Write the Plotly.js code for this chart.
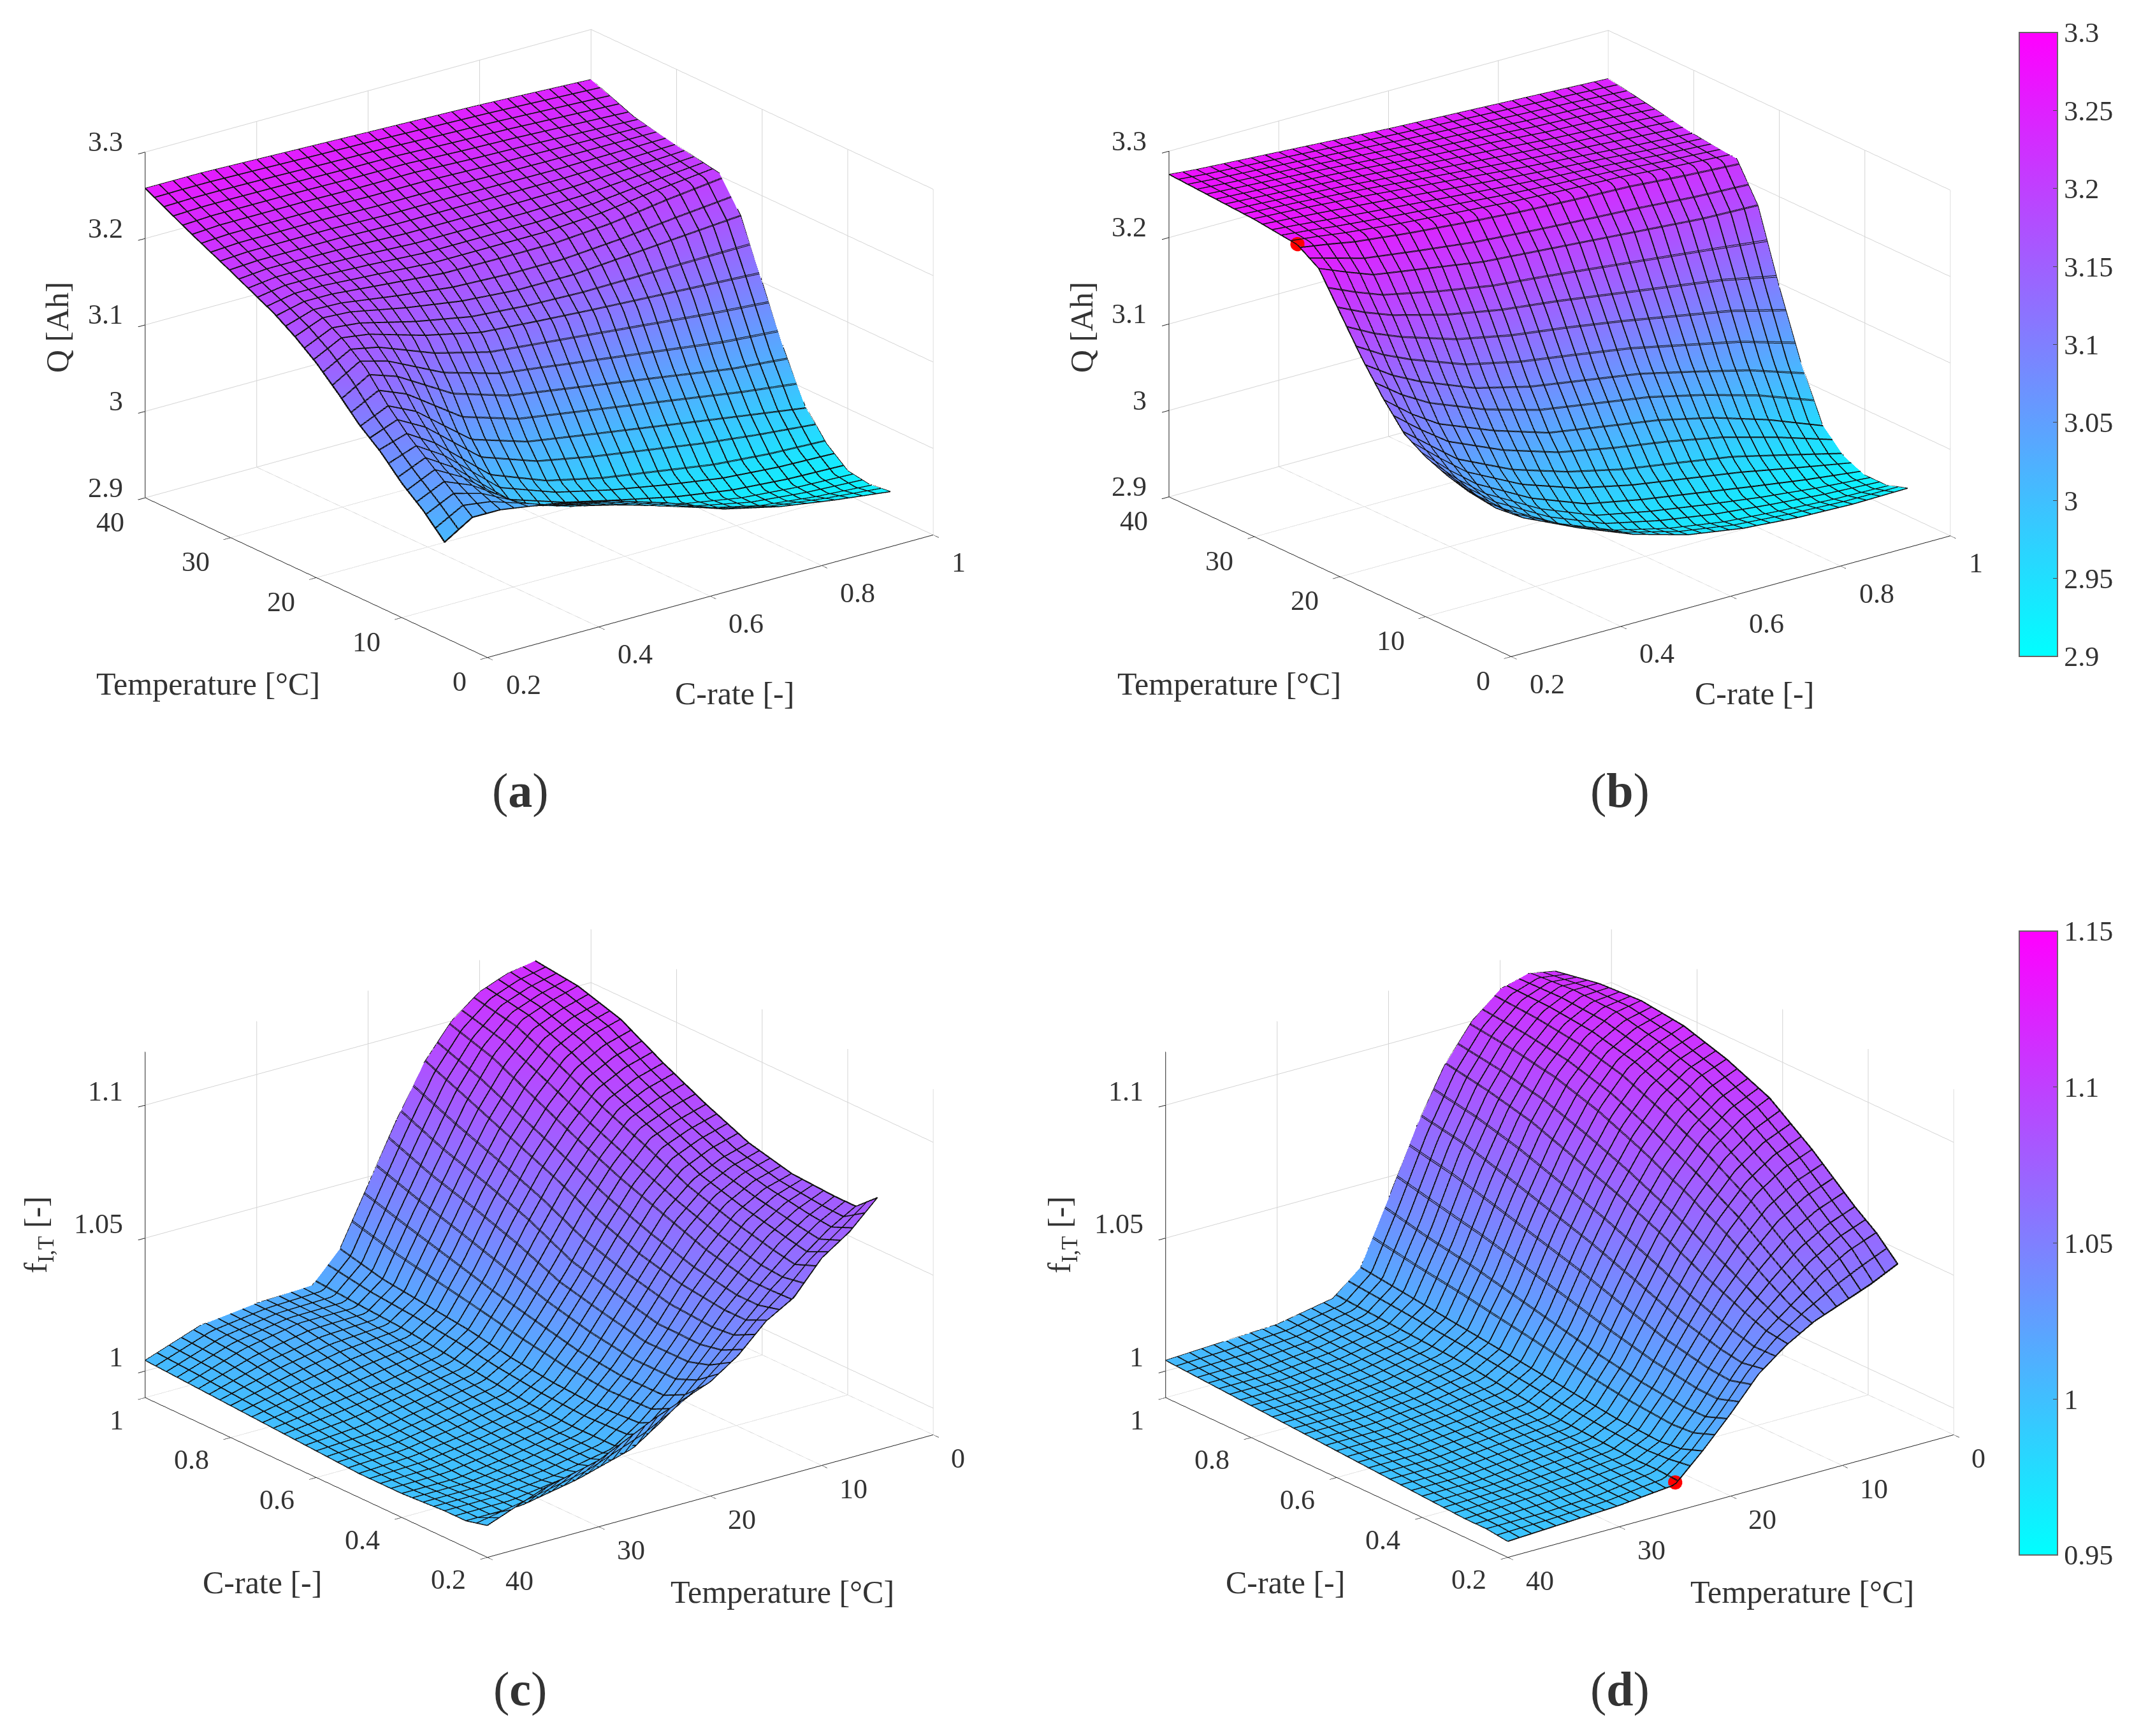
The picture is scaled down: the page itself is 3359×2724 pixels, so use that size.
<!DOCTYPE html>
<html><head><meta charset="utf-8">
<script src="https://cdn.plot.ly/plotly-3.0.1.min.js"></script>
<style>html,body{margin:0;padding:0;background:#fff}#g{width:3359px;height:2724px}</style>
</head><body><div id="g"></div>
<script>
const cRate=[0.2,0.25,0.3,0.4,0.5,0.6,0.7,0.8,0.9,1];
const temp=[5,7.5,10,12.5,15,17.5,20,22.5,25,30,35,40];
const qA=[
[3.01,3.035,3.055,3.08,3.10,3.125,3.148,3.167,3.183,3.208,3.232,3.258],
[3.03,3.05,3.07,3.09,3.115,3.145,3.165,3.18,3.19,3.21,3.234,3.258],
[3.03,3.04,3.05,3.07,3.10,3.135,3.16,3.178,3.19,3.21,3.234,3.258],
[3.02,3.005,2.995,3.015,3.05,3.10,3.14,3.165,3.185,3.21,3.234,3.256],
[3.005,2.99,2.975,2.99,3.03,3.08,3.125,3.155,3.18,3.208,3.233,3.254],
[2.985,2.97,2.96,2.975,3.02,3.07,3.12,3.15,3.18,3.208,3.233,3.252],
[2.96,2.95,2.945,2.965,3.01,3.06,3.115,3.15,3.18,3.208,3.23,3.25],
[2.945,2.935,2.935,2.955,3.0,3.05,3.11,3.155,3.185,3.208,3.228,3.248],
[2.935,2.928,2.93,2.95,2.99,3.04,3.105,3.16,3.195,3.21,3.225,3.245],
[2.927,2.924,2.928,2.948,2.98,3.035,3.10,3.165,3.203,3.212,3.222,3.242]];
const qB=[
[3.068,3.075,3.085,3.10,3.13,3.165,3.205,3.245,3.261,3.267,3.27,3.273],
[3.04,3.045,3.055,3.075,3.105,3.145,3.19,3.232,3.257,3.265,3.268,3.27],
[3.02,3.02,3.03,3.05,3.085,3.13,3.178,3.22,3.252,3.263,3.266,3.268],
[2.991,2.985,2.995,3.02,3.06,3.105,3.16,3.21,3.245,3.258,3.262,3.264],
[2.966,2.96,2.97,3.0,3.04,3.09,3.148,3.2,3.24,3.252,3.257,3.26],
[2.948,2.945,2.958,2.985,3.03,3.08,3.14,3.195,3.235,3.246,3.252,3.256],
[2.938,2.935,2.948,2.975,3.02,3.07,3.13,3.19,3.232,3.24,3.248,3.253],
[2.933,2.93,2.938,2.965,3.005,3.055,3.12,3.185,3.23,3.235,3.243,3.25],
[2.931,2.926,2.93,2.95,2.985,3.04,3.11,3.18,3.225,3.23,3.24,3.247],
[2.932,2.924,2.924,2.935,2.96,3.02,3.095,3.178,3.221,3.226,3.235,3.244]];
const fC=[
[1.085,1.075,1.068,1.056,1.05,1.04,1.033,1.029,1.025,1.015,1.01,1.002],
[1.078,1.072,1.064,1.056,1.046,1.036,1.026,1.017,1.01,1.004,1.0,1.0],
[1.078,1.073,1.066,1.056,1.046,1.034,1.022,1.013,1.006,1.002,1.0,1.0],
[1.079,1.076,1.07,1.06,1.048,1.034,1.022,1.012,1.006,1.002,0.999,0.999],
[1.083,1.08,1.075,1.066,1.052,1.038,1.024,1.013,1.007,1.003,1.0,0.999],
[1.09,1.087,1.083,1.072,1.058,1.042,1.028,1.015,1.009,1.005,1.001,1.0],
[1.098,1.095,1.09,1.079,1.066,1.05,1.032,1.018,1.011,1.007,1.004,1.001],
[1.107,1.104,1.098,1.087,1.073,1.056,1.037,1.02,1.013,1.011,1.007,1.002],
[1.112,1.109,1.105,1.095,1.08,1.061,1.042,1.022,1.014,1.014,1.01,1.003],
[1.114,1.112,1.108,1.10,1.087,1.068,1.047,1.026,1.015,1.014,1.0115,1.004]];
const fD=[
[1.06,1.055,1.051,1.047,1.041,1.033,1.021,1.01,1.0,0.998,0.997,0.996],
[1.068,1.064,1.058,1.05,1.042,1.031,1.018,1.007,1.001,0.998,0.997,0.997],
[1.074,1.07,1.064,1.055,1.045,1.032,1.018,1.006,1.001,0.999,0.998,0.997],
[1.088,1.084,1.077,1.066,1.052,1.036,1.02,1.007,1.002,1.0,0.998,0.998],
[1.1,1.095,1.087,1.075,1.06,1.042,1.023,1.009,1.003,1.001,0.999,0.999],
[1.107,1.103,1.095,1.083,1.067,1.048,1.027,1.011,1.005,1.002,1.0,1.0],
[1.112,1.108,1.102,1.09,1.073,1.053,1.031,1.013,1.007,1.003,1.001,1.001],
[1.114,1.112,1.106,1.095,1.079,1.058,1.035,1.015,1.008,1.004,1.002,1.002],
[1.113,1.113,1.108,1.098,1.083,1.063,1.038,1.017,1.009,1.005,1.003,1.003],
[1.11,1.112,1.109,1.1,1.086,1.066,1.042,1.019,1.01,1.006,1.005,1.004]];
const markB={c:[0.2],t:[25],z:[3.262]};
const markD={c:[0.2],t:[25],z:[1.001]};
const cTicks=[0.2,0.4,0.6,0.8,1], tTicks=[0,10,20,30,40];
const qTicks=[2.9,3,3.1,3.2,3.3], fTicks=[1,1.05,1.1];
const qBar=[2.9,2.95,3,3.05,3.1,3.15,3.2,3.25,3.3], fBar=[0.95,1,1.05,1.1,1.15];
const W=3359,H=2724,FONT='"Liberation Serif",serif',TC='#333333',TS=44,TT=50,R=1.383;
const cool=[[0,'rgb(0,255,255)'],[1,'rgb(255,0,255)']];
const SX=1500,SY=1078,MESH='#111111';
const flip=z=>temp.map((_,j)=>z.map(r=>r[j]));
function surf(z,scene,cmin,cmax,bar,ticks){
  const t={type:'surface',x:cRate,y:temp,z:flip(z),scene:scene,cmin:cmin,cmax:cmax,colorscale:cool,hoverinfo:'skip',
    showscale:!!bar,lighting:{ambient:1,diffuse:0,specular:0,roughness:1,fresnel:0},
    contours:{y:{show:true,start:5,end:40,size:35/32,color:MESH,width:2,highlight:false},
              x:{show:true,start:0.2,end:1,size:0.025,color:MESH,width:2,highlight:false},
              z:{show:false,highlight:false}}};
  if(bar){t.colorbar={x:3168/W,xanchor:'left',thickness:60,len:979/H,lenmode:'fraction',y:1-bar/H,yanchor:'bottom',ypad:0,xpad:0,
    outlinecolor:'#666',outlinewidth:2,tickmode:'array',tickvals:ticks,ticktext:ticks.map(String),ticks:'inside',ticklen:8,tickcolor:'#444',
    tickprefix:'\u2009\u2009',tickfont:{family:FONT,size:TS,color:TC}};}
  return t;
}
function mesh2(z,scene,cmin,cmax){
  return {type:'surface',x:cRate,y:temp,z:flip(z),scene:scene,cmin:cmin,cmax:cmax,colorscale:cool,hoverinfo:'skip',showscale:false,hidesurface:true,
    contours:{y:{show:true,start:5.05,end:40,size:35/32,color:MESH,width:2,highlight:false},
              x:{show:true,start:0.201,end:1,size:0.025,color:MESH,width:2,highlight:false},
              z:{show:false,highlight:false}}};
}
function edges(z,scene){
  const L={type:'scatter3d',mode:'lines',scene:scene,showlegend:false,hoverinfo:'skip',line:{color:MESH,width:3}};
  return [{...L,y:temp,x:temp.map(()=>cRate[0]),z:z[0]},
   {...L,y:temp,x:temp.map(()=>cRate[cRate.length-1]),z:z[z.length-1]},
   {...L,y:cRate.map(()=>temp[0]),x:cRate,z:z.map(r=>r[0])},
   {...L,y:cRate.map(()=>temp[temp.length-1]),x:cRate,z:z.map(r=>r[r.length-1])}];
}
function axis(range,vals){return {range:range,tickmode:'array',tickvals:vals,showticklabels:false,title:{text:''},showbackground:false,
  showgrid:true,gridcolor:'rgb(212,212,212)',gridwidth:2,zeroline:false,showline:true,linecolor:'#222',linewidth:2,
  ticks:'outside',ticklen:14,tickcolor:'#222',tickwidth:2,showspikes:false};}
function lab(x,y,z,text,anchor,dx,dy){return {x:x,y:y,z:z,text:text,showarrow:false,xanchor:anchor,yanchor:'middle',xshift:dx,yshift:dy,font:{family:FONT,size:TS,color:TC}};}
function scene(cx,cy,zr,zt,eye,top,k){
  const ann=[];
  zt.forEach(v=>ann.push(lab(0.2+(top?0:0.8),40,v,String(v),'right',-33,top?16:22)));
  if(top){
    cTicks.forEach(v=>ann.push(lab(v,0,zr[0],String(v),'left',27,-43)));
    tTicks.forEach(v=>ann.push(lab(0.2,v,zr[0],String(v),'right',-31,-38)));
  }else{
    cTicks.forEach(v=>ann.push(lab(v,40,zr[0],String(v),'right',-32,-35)));
    tTicks.forEach(v=>ann.push(lab(0.2,v,zr[0],String(v),'left',26,-37)));
  }
  return {domain:{x:[(cx-SX/2)/W,(cx+SX/2)/W],y:[1-(cy+SY/2)/H,1-(cy-SY/2)/H]},
    xaxis:axis([0.2,1],cTicks),yaxis:axis([0,40],tTicks),zaxis:axis(zr,zt),annotations:ann,
    aspectmode:'manual',aspectratio:{x:1.636*k,y:1.636,z:1.078},
    camera:{projection:{type:'orthographic'},up:{x:0,y:0,z:1},center:{x:0,y:0,z:0},eye:eye},bgcolor:'rgba(0,0,0,0)'};
}
const a=37.5*Math.PI/180,e=21*Math.PI/180;
const eyeTop={x:-Math.sin(a)*Math.cos(e)*R,y:-Math.cos(a)*Math.cos(e)*R,z:Math.sin(e)*R};
const eyeBot={x:-Math.cos(a)*Math.cos(e)*R,y:Math.sin(a)*Math.cos(e)*R,z:Math.sin(e)*R};
const data=[surf(qA,'scene',2.9,3.3,1030,qBar),mesh2(qA,'scene',2.9,3.3),...edges(qA,'scene'),
  surf(qB,'scene2',2.9,3.3,null),mesh2(qB,'scene2',2.9,3.3),...edges(qB,'scene2'),
  surf(fC,'scene3',0.95,1.15,2440,fBar),mesh2(fC,'scene3',0.95,1.15),...edges(fC,'scene3'),
  surf(fD,'scene4',0.95,1.15,null),mesh2(fD,'scene4',0.95,1.15),...edges(fD,'scene4'),
  {type:'scatter3d',mode:'markers',scene:'scene2',y:markB.t,x:markB.c,z:markB.z,marker:{color:'red',size:13},showlegend:false,hoverinfo:'skip'},
  {type:'scatter3d',mode:'markers',scene:'scene4',y:markD.t,x:markD.c,z:markD.z,marker:{color:'red',size:13},showlegend:false,hoverinfo:'skip'}];
function note(text,px,py,size,angle){return {text:text,xref:'paper',yref:'paper',x:px/W,y:1-py/H,xanchor:'center',yanchor:'middle',showarrow:false,
  textangle:angle||0,font:{family:FONT,size:size,color:TC}};}
const annotations=[
 note('Q [Ah]',90,514,TT,-90),note('Q [Ah]',1697,514,TT,-90),
 note('Temperature [°C]',326,1073,TT),note('Temperature [°C]',1928,1073,TT),
 note('C-rate [-]',1152,1088,TT),note('C-rate [-]',2752,1088,TT),
 note('f<sub>I,T</sub> [-]',60,1938,TT,-90),note('f<sub>I,T</sub> [-]',1666,1938,TT,-90),
 note('C-rate [-]',411,2483,TT),note('C-rate [-]',2016,2483,TT),
 note('Temperature [°C]',1227,2498,TT),note('Temperature [°C]',2827,2498,TT),
 note('(<b>a</b>)',816,1240,76),note('(<b>b</b>)',2541,1240,76),note('(<b>c</b>)',816,2650,76),note('(<b>d</b>)',2541,2650,76)];
const layout={width:W,height:H,margin:{l:0,r:0,t:0,b:0},paper_bgcolor:'#fff',showlegend:false,annotations:annotations,
  scene:scene(846,539,[2.9,3.3],qTicks,eyeTop,true,1),scene2:scene(2447,539,[2.9,3.3],qTicks,eyeTop,true,0.985),
  scene3:scene(846,1951,[0.99,1.12],fTicks,eyeBot,false,1),scene4:scene(2447,1951,[0.99,1.12],fTicks,eyeBot,false,1)};
Plotly.newPlot('g',data,layout,{displayModeBar:false,plotGlPixelRatio:1});
</script></body></html>
